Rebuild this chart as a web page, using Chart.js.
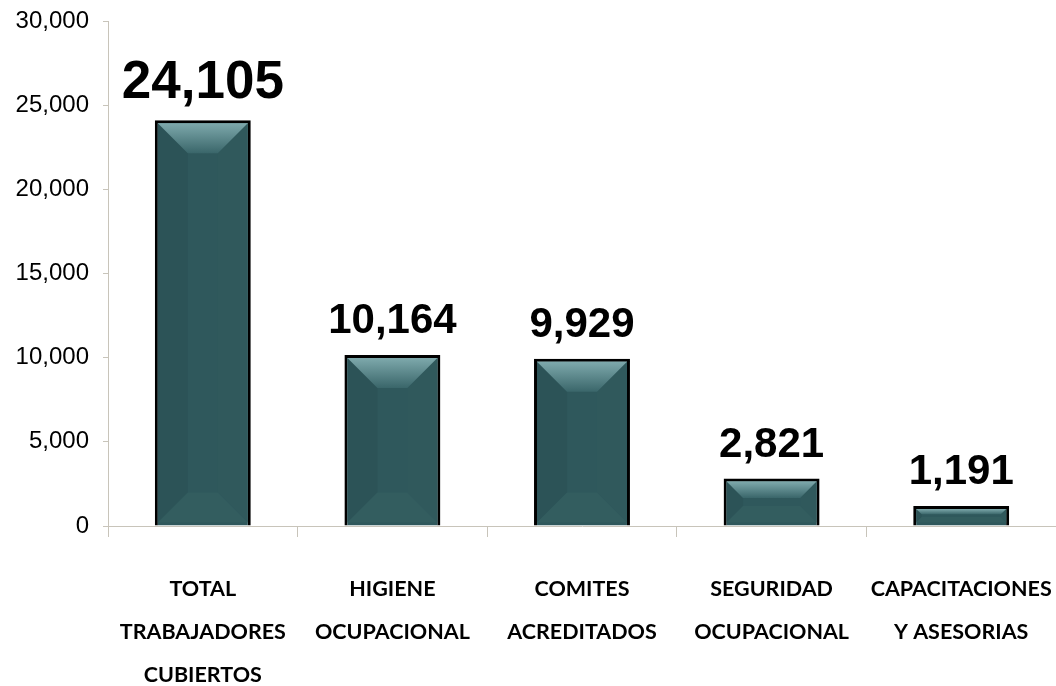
<!DOCTYPE html>
<html>
<head>
<meta charset="utf-8">
<script src="https://cdn.jsdelivr.net/npm/chart.js@4.4.0/dist/chart.umd.min.js"></script>
<style>
  html, body { margin: 0; padding: 0; background: #fff; }
  #wrap { width: 1056px; height: 686px; }
</style>
</head>
<body>
<div id="wrap"><canvas id="myChart" width="1056" height="686"></canvas></div>
<script>
// datos
const categorias = [
  ["TOTAL", "TRABAJADORES", "CUBIERTOS"],
  ["HIGIENE", "OCUPACIONAL"],
  ["COMITES", "ACREDITADOS"],
  ["SEGURIDAD", "OCUPACIONAL"],
  ["CAPACITACIONES", "Y ASESORIAS"],
];
const valores = [24105, 10164, 9929, 2821, 1191];
const ejeMax = 30000;
const ejePaso = 5000;

const colorEje = "#c8c4ba";

function fmt(n) {
  return n.toLocaleString("en-US");
}

// efecto biselado sobre cada barra
const bisel = {
  id: "bisel",
  afterDatasetsDraw(chart) {
    const ctx = chart.ctx;
    const meta = chart.getDatasetMeta(0);
    meta.data.forEach((bar) => {
      const p = bar.getProps(["x", "y", "base", "width"], true);
      const b = 3;
      const x0 = p.x - p.width / 2 + b;
      const x1 = p.x + p.width / 2 - b;
      const y0 = p.y + b;
      const y1 = p.base - b;
      const h = y1 - y0;
      const d = Math.min(30, h * 0.4);
      ctx.save();
      // lado izquierdo
      ctx.fillStyle = "#2c5357";
      poly(ctx, [[x0, y0], [x0 + d, y0 + d], [x0 + d, y1 - d], [x0, y1]]);
      // lado derecho
      ctx.fillStyle = "#30595c";
      poly(ctx, [[x1, y0], [x1 - d, y0 + d], [x1 - d, y1 - d], [x1, y1]]);
      // abajo
      ctx.fillStyle = "#335d5f";
      poly(ctx, [[x0, y1], [x0 + d, y1 - d], [x1 - d, y1 - d], [x1, y1]]);
      // arriba con degradado
      const g = ctx.createLinearGradient(0, y0, 0, y0 + d);
      g.addColorStop(0, "#7ea9ac");
      g.addColorStop(1, "#3a666a");
      ctx.fillStyle = g;
      poly(ctx, [[x0, y0], [x1, y0], [x1 - d, y0 + d], [x0 + d, y0 + d]]);
      ctx.restore();
    });
  },
};

function poly(ctx, pts) {
  ctx.beginPath();
  ctx.moveTo(pts[0][0], pts[0][1]);
  for (let i = 1; i < pts.length; i++) ctx.lineTo(pts[i][0], pts[i][1]);
  ctx.closePath();
  ctx.fill();
}

// etiquetas de valor arriba de las barras
const etiquetas = {
  id: "etiquetas",
  afterDatasetsDraw(chart) {
    const ctx = chart.ctx;
    const meta = chart.getDatasetMeta(0);
    ctx.save();
    ctx.fillStyle = "#000";
    ctx.textAlign = "center";
    ctx.textBaseline = "alphabetic";
    meta.data.forEach((bar, i) => {
      const size = i === 0 ? 53 : 42;
      ctx.font = "bold " + size + "px 'Liberation Sans', Arial, sans-serif";
      ctx.fillText(fmt(valores[i]), bar.x, bar.y - 22);
    });
    ctx.restore();
  },
};

new Chart(document.getElementById("myChart"), {
  type: "bar",
  data: {
    labels: categorias,
    datasets: [
      {
        data: valores,
        backgroundColor: "#2f585c",
        borderColor: "#000",
        borderWidth: 3,
        categoryPercentage: 1,
        barPercentage: 0.506,
      },
    ],
  },
  options: {
    responsive: false,
    animation: false,
    layout: { padding: { top: 21, left: 0, right: 0, bottom: 0 } },
    plugins: { legend: { display: false }, tooltip: { enabled: false } },
    scales: {
      x: {
        grid: {
          display: true,
          drawOnChartArea: false,
          drawTicks: true,
          tickLength: 11,
          color: colorEje,
          offset: true,
        },
        border: { display: true, color: colorEje, width: 1 },
        ticks: {
          color: "#000",
          padding: 31,
          maxRotation: 0,
          minRotation: 0,
          autoSkip: false,
          font: { family: "Lato, 'Open Sans', sans-serif", weight: "bold", size: 21.5, lineHeight: 43 / 21.5 },
        },
        afterFit(scale) {
          scale.height = 160;
          scale.paddingLeft = 0;
          scale.paddingRight = 0;
        },
      },
      y: {
        min: 0,
        max: ejeMax,
        grid: {
          display: true,
          drawOnChartArea: false,
          drawTicks: true,
          tickLength: 5,
          color: colorEje,
        },
        border: { display: true, color: colorEje, width: 1 },
        ticks: {
          stepSize: ejePaso,
          color: "#000",
          padding: 14,
          font: { family: "'Liberation Sans', Arial, sans-serif", size: 24 },
          callback: (v) => fmt(v),
        },
        afterFit(scale) {
          scale.width = 108;
          scale.paddingTop = 0;
          scale.paddingBottom = 0;
        },
      },
    },
  },
  plugins: [bisel, etiquetas],
});
</script>
</body>
</html>
